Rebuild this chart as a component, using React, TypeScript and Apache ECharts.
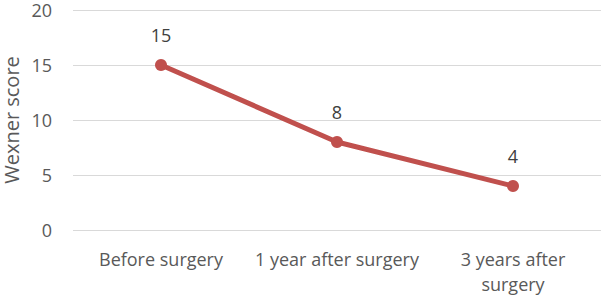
import React, { useEffect, useRef } from "react";
import * as echarts from "echarts";

const categories = ["Before surgery", "1 year after surgery", "3 years after\nsurgery"];
const scores = [15, 8, 4];
const yTicks = { min: 0, max: 20, interval: 5 };
const yAxisTitle = "Wexner score";

export default function App() {
  const ref = useRef<HTMLDivElement>(null);
  useEffect(() => {
    if (!ref.current) return;
    const chart = echarts.init(ref.current, null, { renderer: "svg" });
    const font = "'Open Sans', 'Liberation Sans', sans-serif";
    chart.setOption({
      animation: false,
      grid: { left: 73, right: 2, top: 10, bottom: 68, outerBoundsMode: "none", containLabel: false },
      graphic: [
        {
          type: "text",
          x: 11,
          y: 120,
          rotation: Math.PI / 2,
          style: {
            text: yAxisTitle,
            fill: "#595959",
            fontSize: 20,
            fontFamily: font,
            align: "center",
            verticalAlign: "middle",
          },
        },
      ],
      xAxis: {
        type: "category",
        data: categories,
        axisLine: { show: false },
        axisTick: { show: false },
        axisLabel: { color: "#595959", fontSize: 18, fontFamily: font, margin: 16, lineHeight: 25, interval: 0 },
      },
      yAxis: {
        type: "value",
        min: yTicks.min,
        max: yTicks.max,
        interval: yTicks.interval,
        axisLabel: { color: "#595959", fontSize: 18, lineHeight: 16, fontFamily: font, margin: 21 },
        splitLine: { lineStyle: { color: "#d9d9d9", width: 1 } },
        axisLine: { show: false },
        axisTick: { show: false },
      },
      series: [
        {
          type: "line",
          data: scores,
          symbol: "circle",
          symbolSize: 12,
          lineStyle: { color: "#C0504D", width: 5 },
          itemStyle: { color: "#C0504D" },
          label: { show: true, position: "top", distance: 15, color: "#404040", fontSize: 18, fontFamily: font },
        },
      ],
    });
    return () => chart.dispose();
  }, []);
  return <div ref={ref} style={{ width: 603, height: 298, position: "absolute", left: 0, top: 0 }} />;
}
